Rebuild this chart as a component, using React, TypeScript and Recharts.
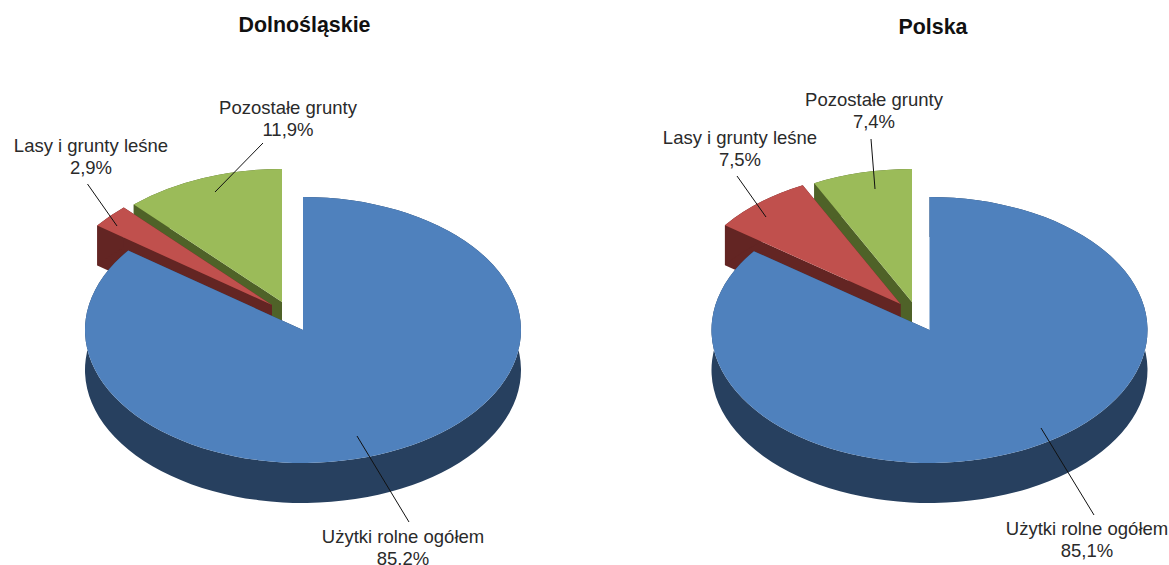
import { Pie, PieChart } from 'recharts';

const categories = ['Pozostałe grunty', 'Lasy i grunty leśne', 'Użytki rolne ogółem'];

const dolnoslaskieValues = [11.9, 2.9, 85.2];
const dolnoslaskieLabels = ['11,9%', '2,9%', '85.2%'];
const polskaValues = [7.4, 7.5, 85.1];
const polskaLabels = ['7,4%', '7,5%', '85,1%'];

const topColors = ['#9BBB59', '#C0504D', '#4F81BD'];
const wallColors = ['#4F6228', '#632523', '#27405F'];

const RADIUS = 218;
const SQUASH = 0.61;
const DEPTH = 40;
const FONT = '"Liberation Sans", Arial, sans-serif';

// pixel shift of the pulled-out slices, per category
const leftShift = [[-21, -28], [-31, -25], [0, 0]];
const rightShift = [[-17.5, -28], [-29, -26], [0, 0]];

// label centre, first baseline and leader line, relative to pie centre
const leftLayout = [
  { x: -15, y: -216, line: [-40, -187, -88, -138] },
  { x: -212, y: -178, line: [-215.5, -146, -186, -104] },
  { x: 100, y: 212.5, line: [54, 106, 106, 192] },
];
const rightLayout = [
  { x: -55.5, y: -224, line: [-58.5, -191, -54.5, -141] },
  { x: -189.5, y: -186, line: [-192.5, -154, -163.5, -113] },
  { x: 157.5, y: 205, line: [111.5, 98, 164.5, 185] },
];

const makeData = (values: number[], labels: string[]) =>
  categories.map((name, i) => ({ name, value: values[i], text: labels[i] }));

const slice = (shifts: number[][]) => (props: any) => {
  const i = categories.indexOf(props.name);
  const cx = props.cx + shifts[i][0];
  const cy = props.cy + shifts[i][1];
  const r = props.outerRadius;
  const ry = r * SQUASH;
  const a0 = (props.startAngle * Math.PI) / 180;
  const a1 = (props.endAngle * Math.PI) / 180;
  const x0 = cx + r * Math.cos(a0);
  const y0 = cy - ry * Math.sin(a0);
  const x1 = cx + r * Math.cos(a1);
  const y1 = cy - ry * Math.sin(a1);
  const large = Math.abs(props.endAngle - props.startAngle) > 180 ? 1 : 0;
  const wall = wallColors[i];

  return (
    <g>
      <path
        d={`M${cx},${cy} L${x0},${y0} L${x0},${y0 + DEPTH} L${cx},${cy + DEPTH} Z`}
        fill={wall}
      />
      <path
        d={`M${cx},${cy} L${x1},${y1} L${x1},${y1 + DEPTH} L${cx},${cy + DEPTH} Z`}
        fill={wall}
      />
      <path
        d={`M${x0},${y0} A${r},${ry} 0 ${large} 0 ${x1},${y1} L${x1},${y1 + DEPTH} A${r},${ry} 0 ${large} 1 ${x0},${y0 + DEPTH} Z`}
        fill={wall}
      />
      <path
        d={`M${cx},${cy} L${x0},${y0} A${r},${ry} 0 ${large} 0 ${x1},${y1} Z`}
        fill={topColors[i]}
      />
    </g>
  );
};

const sliceLabel = (layout: any[]) => (props: any) => {
  const i = categories.indexOf(props.name);
  const { x, y, line } = layout[i];
  const cx = props.cx;
  const cy = props.cy;
  return (
    <g>
      <line
        x1={cx + line[0]}
        y1={cy + line[1]}
        x2={cx + line[2]}
        y2={cy + line[3]}
        stroke="#111"
        strokeWidth={1}
      />
      <text x={cx + x} y={cy + y} textAnchor="middle" fontSize={18.5} fontFamily={FONT} fill="#2a2a2a">
        {props.name}
      </text>
      <text x={cx + x} y={cy + y + 22} textAnchor="middle" fontSize={18.5} fontFamily={FONT} fill="#2a2a2a">
        {props.payload.text}
      </text>
    </g>
  );
};

export default function App() {
  return (
    <div style={{ position: 'absolute', left: 0, top: 0, width: 1169, height: 565 }}>
      <PieChart width={1169} height={565} margin={{ top: 0, right: 0, bottom: 0, left: 0 }}>
        <text x={304.5} y={32} textAnchor="middle" fontSize={21.4} fontWeight="bold" fontFamily={FONT} fill="#111">
          Dolnośląskie
        </text>
        <text x={933} y={34} textAnchor="middle" fontSize={21.4} fontWeight="bold" fontFamily={FONT} fill="#111">
          Polska
        </text>
        <Pie
          data={makeData(dolnoslaskieValues, dolnoslaskieLabels)}
          dataKey="value"
          nameKey="name"
          cx={303}
          cy={330}
          outerRadius={RADIUS}
          startAngle={90}
          endAngle={450}
          stroke="none"
          shape={slice(leftShift)}
          label={sliceLabel(leftLayout)}
          labelLine={false}
          isAnimationActive={false}
        />
        <Pie
          data={makeData(polskaValues, polskaLabels)}
          dataKey="value"
          nameKey="name"
          cx={929.5}
          cy={330}
          outerRadius={RADIUS}
          startAngle={90}
          endAngle={450}
          stroke="none"
          shape={slice(rightShift)}
          label={sliceLabel(rightLayout)}
          labelLine={false}
          isAnimationActive={false}
        />
      </PieChart>
    </div>
  );
}
